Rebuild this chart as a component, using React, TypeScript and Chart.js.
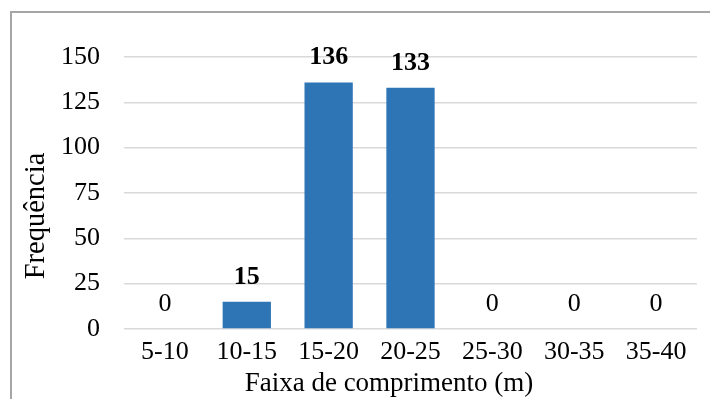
import React, { useEffect, useRef } from "react";
import { Chart, registerables } from "chart.js";

Chart.register(...registerables);

const categories = ["5-10", "10-15", "15-20", "20-25", "25-30", "30-35", "35-40"];
const frequencies = [0, 15, 136, 133, 0, 0, 0];
const yTicks = [0, 25, 50, 75, 100, 125, 150];
const xTitle = "Faixa de comprimento (m)";
const yTitle = "Frequência";

const FONT = '"Liberation Serif", "Times New Roman", serif';
const BAR_COLOR = "#2E75B6";

// Writes each bar's value above it; zero counts are drawn in regular weight.
const valueLabels = {
  id: "valueLabels",
  afterDatasetsDraw(chart: any) {
    const { ctx } = chart;
    const meta = chart.getDatasetMeta(0);
    ctx.save();
    ctx.fillStyle = "#000";
    ctx.textAlign = "center";
    ctx.textBaseline = "middle";
    meta.data.forEach((bar: any, i: number) => {
      const v = frequencies[i];
      ctx.font = `${v > 0 ? "bold " : ""}26px ${FONT}`;
      ctx.fillText(String(v), bar.x, bar.y - 25);
    });
    ctx.restore();
  },
};

// Axis titles, placed relative to the plot area.
const axisTitles = {
  id: "axisTitles",
  afterDraw(chart: any) {
    const { ctx, chartArea } = chart;
    ctx.save();
    ctx.fillStyle = "#000";
    ctx.textAlign = "center";
    ctx.textBaseline = "alphabetic";
    ctx.font = `27px ${FONT}`;
    ctx.fillText(xTitle, chartArea.left + 265, chartArea.bottom + 62);
    ctx.translate(chartArea.left - 80, chartArea.top + 159);
    ctx.rotate(-Math.PI / 2);
    ctx.font = `28.5px ${FONT}`;
    ctx.fillText(yTitle, 0, 0);
    ctx.restore();
  },
};

export default function App() {
  const canvasRef = useRef<HTMLCanvasElement | null>(null);

  useEffect(() => {
    if (!canvasRef.current) return;
    const chart = new Chart(canvasRef.current, {
      type: "bar",
      data: {
        labels: categories,
        datasets: [
          {
            data: frequencies,
            backgroundColor: BAR_COLOR,
            borderWidth: 0,
            categoryPercentage: 1,
            barPercentage: 0.59,
          },
        ],
      },
      options: {
        animation: false,
        responsive: true,
        maintainAspectRatio: false,
        layout: { padding: { top: 57, right: 13, bottom: 0, left: 0 } },
        plugins: {
          legend: { display: false },
          tooltip: { enabled: false },
        },
        scales: {
          x: {
            grid: { display: false, drawTicks: false },
            border: { display: false },
            ticks: {
              color: "#000",
              padding: 8,
              maxRotation: 0,
              font: { family: FONT, size: 26 },
            },
            afterFit(axis: any) {
              axis.height = 70;
            },
          },
          y: {
            min: 0,
            max: 150,
            afterBuildTicks(axis: any) {
              axis.ticks = yTicks.map((v) => ({ value: v }));
            },
            grid: { color: "#D9D9D9", lineWidth: 1.5, drawTicks: false },
            border: { display: false },
            ticks: {
              color: "#000",
              padding: 24,
              font: { family: FONT, size: 26 },
            },
            afterFit(axis: any) {
              axis.width = 124;
              axis.paddingTop = 0;
              axis.paddingBottom = 0;
            },
          },
        },
      },
      plugins: [valueLabels, axisTitles],
    });
    return () => chart.destroy();
  }, []);

  return (
    <div style={{ position: "fixed", left: 0, top: 0, width: 710, height: 399, background: "#fff" }}>
      <div
        style={{
          position: "absolute",
          left: 10,
          top: 11,
          width: 720,
          height: 400,
          borderTop: "2px solid #A6A6A6",
          borderLeft: "2px solid #A6A6A6",
        }}
      />
      <div style={{ position: "absolute", left: 0, top: 0, width: 710, height: 399 }}>
        <canvas ref={canvasRef} />
      </div>
    </div>
  );
}
